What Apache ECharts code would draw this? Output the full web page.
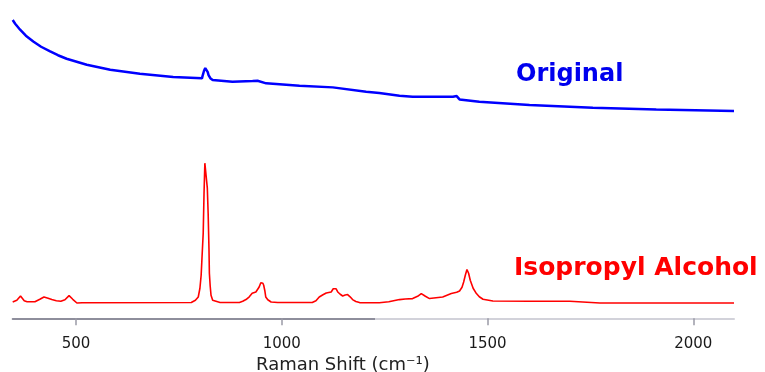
<!DOCTYPE html>
<html>
<head>
<meta charset="utf-8">
<script src="https://cdn.jsdelivr.net/npm/echarts@6/dist/echarts.min.js"></script>
<style>
  html, body { margin: 0; padding: 0; background: #fff; }
  #chart { width: 765px; height: 372px; }
</style>
</head>
<body>
<div id="chart"></div>
<script>
  // Raman shift (cm-1) and intensity (arbitrary units, offset per trace)
  var originalShift = [346, 352, 364, 378, 396, 415, 437, 456, 477, 526, 583, 655, 736, 806, 808, 811, 814, 817, 820, 822, 827, 832, 880, 929, 941, 962, 1043, 1124, 1205, 1237, 1286, 1318, 1416, 1425, 1432, 1480, 1602, 1756, 1910, 2099]
  var originalValue = [298, 294.3, 288.3, 282.3, 276.6, 271.3, 266.6, 262.8, 259.3, 253.3, 248.3, 244.3, 241, 239.7, 243, 247.3, 250, 249.7, 246, 243, 239.5, 238, 236.3, 237, 237.3, 234.7, 232.3, 230.7, 226.3, 225, 222.3, 221.3, 221.3, 222, 218.7, 216.3, 213, 210.3, 208.7, 207]

  var ipaShift = [346, 356, 365, 374, 381, 400, 412, 422, 432, 441, 452, 463, 473, 483, 492, 502, 515, 780, 790, 797, 801, 804, 806, 809, 811, 813, 815, 817, 819, 821, 823, 824, 826, 828, 832, 836, 850, 897, 905, 913, 921, 928, 937, 945, 949, 951, 954, 956, 959, 961, 966, 974, 990, 1074, 1083, 1091, 1100, 1108, 1120, 1125, 1128, 1132, 1136, 1142, 1148, 1154, 1160, 1166, 1172, 1180, 1189, 1237, 1260, 1286, 1300, 1318, 1330, 1339, 1349, 1359, 1375, 1391, 1412, 1425, 1432, 1438, 1442, 1446, 1450, 1454, 1458, 1465, 1473, 1480, 1489, 1513, 1600, 1700, 1773, 2099]
  var ipaValue = [16.3, 18, 22.3, 17.5, 16.5, 16.5, 19, 21.3, 20, 18.7, 17.5, 17, 18.5, 22.7, 19, 15.3, 15.5, 15.8, 18, 21.3, 30, 43, 60, 85, 125, 155, 156, 155, 130, 105, 70, 45, 32, 23, 18, 16.3, 15.8, 15.8, 17, 18.7, 21.5, 25, 26.3, 31.3, 35.5, 36.3, 35, 33, 27, 21.3, 18.5, 16.3, 15.8, 15.8, 17.5, 21.3, 23.5, 25.3, 26.3, 29.5, 31.3, 29.5, 26.3, 24, 22.3, 23.2, 23.7, 21.5, 18.7, 16.8, 15.7, 15.5, 16.5, 18.7, 19.3, 19.7, 22, 24.7, 22, 19.7, 20.5, 21.3, 24.7, 26, 27.3, 31, 36.3, 43, 48.7, 45, 38, 30, 24.7, 21.5, 19, 17.3, 17, 17, 15.3, 15.3]

  var tickValues = [500, 1000, 1500, 2000]

  function pairs(xs, ys) {
    return xs.map(function (x, i) { return [x, ys[i]] })
  }

  var myChart = echarts.init(document.getElementById('chart'))

  var option = {
    animation: false,
    grid: {
      left: 12.7,
      right: 31,
      top: 10,
      bottom: 53.7,
      outerBoundsMode: 'none',
      containLabel: false
    },
    xAxis: {
      type: 'value',
      min: 346,
      max: 2099,
      name: 'Raman Shift (cm⁻¹)',
      nameLocation: 'middle',
      nameGap: 37,
      nameTextStyle: {
        fontFamily: 'DejaVu Sans',
        fontSize: 18,
        color: '#222',
        padding: [0, 61, 0, 0]
      },
      axisLine: {
        lineStyle: {
          width: 2,
          color: new echarts.graphic.LinearGradient(12.7, 0, 734, 0, [
            {offset: 0, color: '#8e8e9c'},
            {offset: 0.502, color: '#8e8e9c'},
            {offset: 0.502, color: '#d2d2da'},
            {offset: 1, color: '#d2d2da'}
          ], true)
        }
      },
      axisTick: {
        show: true,
        length: 7,
        customValues: tickValues,
        lineStyle: {color: '#9a9aa6', width: 1.5}
      },
      axisLabel: {
        customValues: tickValues,
        margin: 18,
        fontFamily: 'DejaVu Sans',
        fontSize: 15,
        color: '#1a1a1a',
        formatter: function (value) {
          return String(value)
        }
      },
      splitLine: {show: false}
    },
    yAxis: {
      type: 'value',
      min: 0,
      max: 308,
      show: false
    },
    series: [
      {
        name: 'Original',
        type: 'line',
        showSymbol: false,
        lineStyle: {color: '#0000ff', width: 2.5},
        data: pairs(originalShift, originalValue)
      },
      {
        name: 'Isopropyl Alcohol',
        type: 'line',
        showSymbol: false,
        lineStyle: {color: '#ff0000', width: 1.6},
        data: pairs(ipaShift, ipaValue)
      }
    ],
    graphic: [
      {
        type: 'text',
        left: 516,
        top: 63,
        style: {
          text: 'Original',
          fill: '#0000ee',
          font: 'bold 24px "DejaVu Sans"'
        }
      },
      {
        type: 'text',
        left: 514,
        top: 256,
        style: {
          text: 'Isopropyl Alcohol',
          fill: '#ff0000',
          font: 'bold 25px "DejaVu Sans"'
        }
      }
    ]
  }

  myChart.setOption(option)
</script>
</body>
</html>
